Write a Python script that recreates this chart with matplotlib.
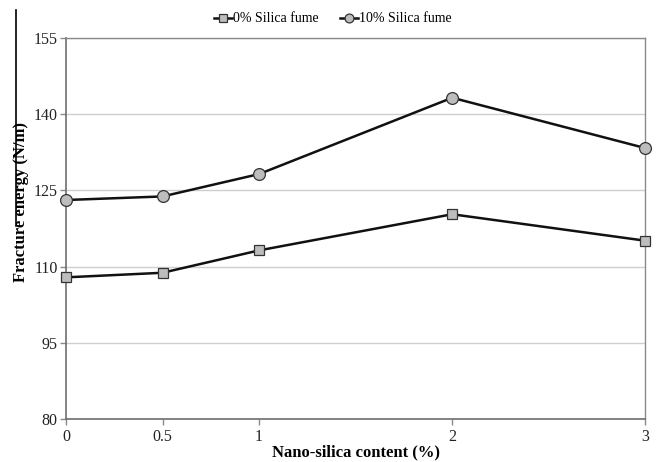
# Fracture energy vs nano-silica content, two silica fume levels

import matplotlib
matplotlib.use("Agg")
import matplotlib.pyplot as plt
from matplotlib.lines import Line2D

nano_silica = [0, 0.5, 1, 2, 3]
sf_0 = [107.9, 108.8, 113.2, 120.3, 115.1]
sf_10 = [123.1, 123.8, 128.2, 143.2, 133.3]
x_ticks = [0, 0.5, 1, 2, 3]
x_tick_labels = ["0", "0.5", "1", "2", "3"]
y_ticks = [80, 95, 110, 125, 140, 155]

plt.rcParams["font.family"] = ["Liberation Serif", "DejaVu Serif"]

fig = plt.figure(figsize=(6.58, 4.62), dpi=100)
W, H = 658, 462
ax = fig.add_axes([66 / W, 1 - 419.3 / H, (645.3 - 66) / W, (419.3 - 37.7) / H])

line_kw = dict(color="#111111", linewidth=1.8, markerfacecolor="#bdbdbd",
               markeredgecolor="#333333", markeredgewidth=0.9, clip_on=False, zorder=3)
ax.plot(nano_silica, sf_0, marker="s", markersize=7.5, label="0% Silica fume", **line_kw)
ax.plot(nano_silica, sf_10, marker="o", markersize=8.5, label="10% Silica fume", **line_kw)

ax.set_xlim(0, 3)
ax.set_ylim(80, 155)
ax.set_xticks(x_ticks)
ax.set_xticklabels(x_tick_labels)
ax.set_yticks(y_ticks)
ax.yaxis.grid(True, color="#cfcfcf", linewidth=1.0)
ax.set_axisbelow(True)

for side in ["top", "right"]:
    ax.spines[side].set_color("#8a8a8a")
    ax.spines[side].set_linewidth(1.0)
for side in ["left", "bottom"]:
    ax.spines[side].set_color("#6e6e6e")
    ax.spines[side].set_linewidth(1.2)

ax.tick_params(axis="both", direction="out", length=4, width=1, color="#8a8a8a",
               labelsize=11.5, labelcolor="#222222", pad=3)
ax.tick_params(axis="y", pad=2)

fig.text(356 / W, 1 - 452 / H, "Nano-silica content (%)", fontsize=12,
         fontweight="bold", ha="center", va="center")
fig.text(21 / W, 1 - 202 / H, "Fracture energy (N/m)", rotation=90, fontsize=12,
         fontweight="bold", ha="center", va="center")

# stray vertical rule at the left edge of the original
fig.add_artist(Line2D([16 / W, 16 / W], [1 - 10 / H, 1 - 226 / H], color="black", linewidth=1.2))

fig.legend(loc="upper center", bbox_to_anchor=(0.506, 1.0), ncol=2, frameon=False,
           fontsize=10, handlelength=1.3, handletextpad=0.1, columnspacing=1.5,
           markerscale=0.75)

fig.savefig("out.png", dpi=100)
